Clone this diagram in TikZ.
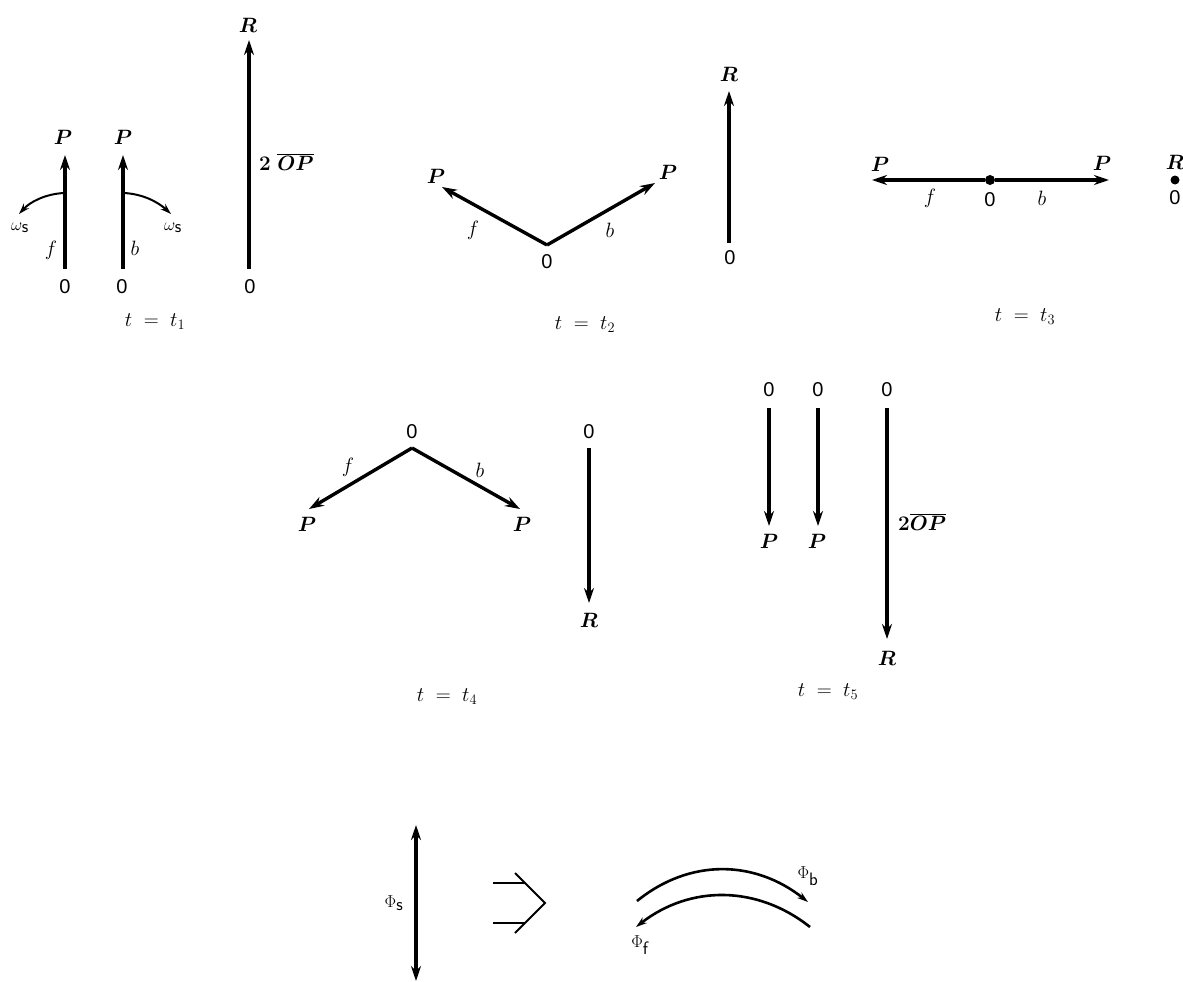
\documentclass[tikz,border=0pt]{standalone}
\usepackage{fontspec}
\newfontfamily\hv{Liberation Sans}
\usetikzlibrary{arrows.meta}
\tikzset{
  vec/.style={line width=3.4pt, -{Stealth[length=15pt,width=10pt]}},
  dvec/.style={line width=3.4pt, {Stealth[length=15pt,width=10pt]}-{Stealth[length=15pt,width=10pt]}},
  arcvec/.style={line width=2pt, -{Stealth[length=11pt,width=7pt]}},
  lbl/.style={inner sep=0pt, font=\fontsize{22}{26}\selectfont\boldmath},
  capt/.style={inner sep=0pt, font=\fontsize{22}{26}\selectfont},
  small/.style={inner sep=0pt, font=\fontsize{18}{21}\selectfont},
  zero/.style={inner sep=0pt, font=\hv\fontsize{20}{22}\selectfont},
  dot/.style={circle, fill=black, inner sep=0pt, minimum size=#1},
  plain/.style={line width=2pt}
}
\begin{document}
\begin{tikzpicture}[x=1pt,y=-1pt]
\useasboundingbox (0,0) rectangle (1183,982);
% ---------- t = t1 ----------
\coordinate (a1s) at (65,269);  \coordinate (a1e) at (65,155);
\coordinate (a2s) at (123,269); \coordinate (a2e) at (123,155);
\coordinate (a3s) at (249,269); \coordinate (a3e) at (249,40);
\draw[vec] (a1s) -- (a1e);
\draw[vec] (a2s) -- (a2e);
\draw[vec] (a3s) -- (a3e);
\node[lbl] (p1a) at (63,137) {$P$};
\node[lbl] (p1b) at (123,137) {$P$};
\node[lbl] (r1) at (248,25) {$R$};
\node[zero] (o1a) at (65,287) {0};
\node[zero] (o1b) at (122,287) {0};
\node[zero] (o1c) at (250,287) {0};
\node[capt] (f1) at (51,250) {$f$};
\node[capt] (b1) at (135,248) {$b$};
\node[lbl,anchor=west] (op1) at (259,162) {$2\;\overline{OP}$};
\coordinate (w1s) at (64,193); \coordinate (w1e) at (19,214);
\coordinate (w2s) at (124,193); \coordinate (w2e) at (171,214);
\draw[arcvec] (w1s) .. controls (45,194) and (30,202) .. (w1e);
\draw[arcvec] (w2s) .. controls (143,194) and (158,202) .. (w2e);
\node[small] (om1) at (20,228) {$\omega_{\textsf{s}}$};
\node[small] (om2) at (173,228) {$\omega_{\textsf{s}}$};
\node[capt] (t1) at (155,322) {$t\;=\;t_{1}$};
% ---------- t = t2 ----------
\coordinate (v2) at (547,245);
\coordinate (l2) at (442,187);
\coordinate (r2) at (655,183);
\draw[vec] (v2) -- (l2);
\draw[vec] (v2) -- (r2);
\node[zero] (o2) at (547,262) {0};
\node[lbl] (p2a) at (436,176) {$P$};
\node[lbl] (p2b) at (668,172) {$P$};
\node[capt] (f2) at (473,230) {$f$};
\node[capt] (b2) at (610,230) {$b$};
\coordinate (q2s) at (729,243); \coordinate (q2e) at (729,91);
\draw[vec] (q2s) -- (q2e);
\node[lbl] (r2l) at (729,74) {$R$};
\node[zero] (o2b) at (730,258) {0};
\node[capt] (t2) at (585,325) {$t\;=\;t_{2}$};
% ---------- t = t3 ----------
\node[dot=10pt] (c3) at (990,180) {};
\coordinate (l3) at (872,180);
\coordinate (r3) at (1109,180);
\draw[vec] (c3) -- (l3);
\draw[vec] (c3) -- (r3);
\node[lbl] (p3a) at (880,164) {$P$};
\node[lbl] (p3b) at (1102,163) {$P$};
\node[capt] (f3) at (930,198) {$f$};
\node[zero] (o3) at (990,200) {0};
\node[capt] (b3) at (1042,198) {$b$};
\node[dot=9pt] (c3r) at (1175,180) {};
\node[lbl] (r3l) at (1175,162) {$R$};
\node[zero] (o3r) at (1175,198) {0};
\node[capt] (t3) at (1025,317) {$t\;=\;t_{3}$};
% ---------- t = t4 ----------
\coordinate (v4) at (412,448);
\coordinate (l4) at (309,509);
\coordinate (r4) at (520,509);
\draw[vec] (v4) -- (l4);
\draw[vec] (v4) -- (r4);
\node[zero] (o4) at (412,432) {0};
\node[lbl] (p4a) at (307,524) {$P$};
\node[lbl] (p4b) at (522,524) {$P$};
\node[capt] (f4) at (348,467) {$f$};
\node[capt] (b4) at (480,470) {$b$};
\coordinate (q4s) at (589,448); \coordinate (q4e) at (589,603);
\draw[vec] (q4s) -- (q4e);
\node[zero] (o4b) at (589,432) {0};
\node[lbl] (r4l) at (589,620) {$R$};
\node[capt] (t4) at (447,697) {$t\;=\;t_{4}$};
% ---------- t = t5 ----------
\coordinate (a5s) at (769,408); \coordinate (a5e) at (769,526);
\coordinate (b5s) at (818,408); \coordinate (b5e) at (818,526);
\coordinate (c5s) at (887,408); \coordinate (c5e) at (887,639);
\draw[vec] (a5s) -- (a5e);
\draw[vec] (b5s) -- (b5e);
\draw[vec] (c5s) -- (c5e);
\node[zero] (o5a) at (769,390) {0};
\node[zero] (o5b) at (818,390) {0};
\node[zero] (o5c) at (887,390) {0};
\node[lbl] (p5a) at (769,541) {$P$};
\node[lbl] (p5b) at (817,541) {$P$};
\node[lbl] (r5l) at (887,658) {$R$};
\node[lbl,anchor=west] (op5) at (898,522) {$2\overline{OP}$};
\node[capt] (t5) at (828,692) {$t\;=\;t_{5}$};
% ---------- bottom ----------
\coordinate (ds) at (416,825); \coordinate (de) at (416,981);
\draw[dvec] (ds) -- (de);
\node[small] (phis) at (394,903) {$\Phi_{\textsf{s}}$};
\coordinate (i1) at (493,883); \coordinate (i1e) at (525,883);
\coordinate (i2) at (493,923); \coordinate (i2e) at (525,923);
\coordinate (ct) at (515,873); \coordinate (cm) at (545,903); \coordinate (cb) at (515,933);
\draw[plain] (i1) -- (i1e);
\draw[plain] (i2) -- (i2e);
\draw[plain, line join=miter] (ct) -- (cm) -- (cb);
\coordinate (ub) at (637,901); \coordinate (ue) at (808,902);
\coordinate (lb) at (810,927); \coordinate (le) at (636,927);
\draw[arcvec, line width=2.6pt] (ub) .. controls (690,858) and (755,860) .. (ue);
\draw[arcvec, line width=2.6pt] (lb) .. controls (757,885) and (690,885) .. (le);
\node[small] (phib) at (808,876) {$\Phi_{\textsf{b}}$};
\node[small] (phif) at (640,945) {$\Phi_{\textsf{f}}$};
\end{tikzpicture}
\end{document}
